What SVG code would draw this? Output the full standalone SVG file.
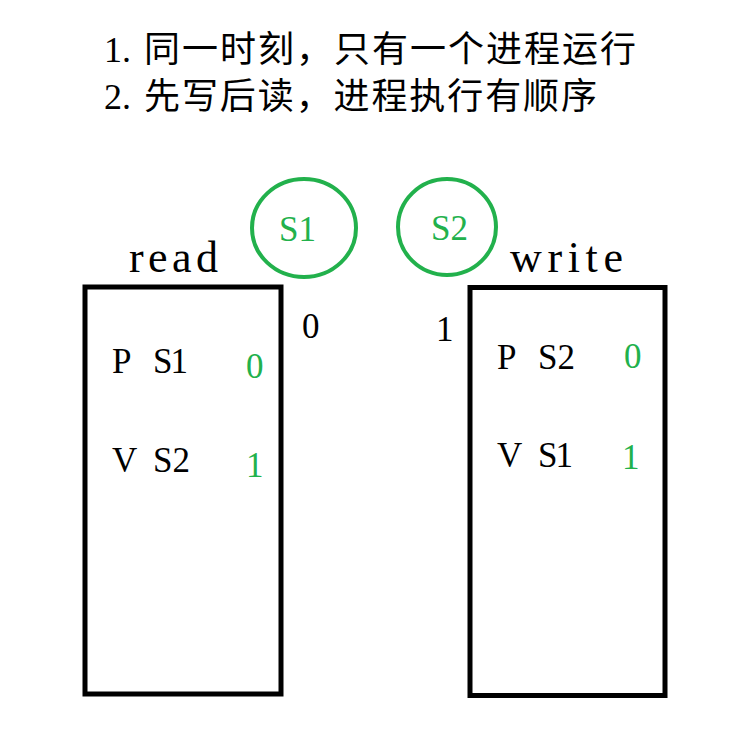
<svg xmlns="http://www.w3.org/2000/svg" width="746" height="746" viewBox="0 0 746 746">
<style>
text{font-family:"Liberation Serif","Noto Sans CJK SC",serif;fill:#000}
.title{font-size:36px}
.lbl{font-size:44px}
.op{font-size:35px}
.g{fill:#22b14c}
.sem{fill:none;stroke:#22b14c;stroke-width:4}
.box{fill:none;stroke:#000;stroke-width:5}
</style>
<rect width="746" height="746" fill="#fff"/>
<g id="title">
<text class="title" x="104" y="62">1.</text>
<text class="title" x="144" y="62" textLength="492">同一时刻，只有一个进程运行</text>
<text class="title" x="104" y="109">2.</text>
<text class="title" x="144" y="109" textLength="453">先写后读，进程执行有顺序</text>
</g>
<g id="sem-s1">
<ellipse class="sem" cx="304" cy="228" rx="52" ry="49"/>
<text class="op g" x="279" y="241" textLength="37">S1</text>
</g>
<g id="sem-s2">
<ellipse class="sem" cx="447" cy="227" rx="49" ry="48"/>
<text class="op g" x="431" y="240" textLength="37">S2</text>
</g>
<g id="init-values">
<text class="op" x="302" y="338">0</text>
<text class="op" x="436" y="341">1</text>
</g>
<g id="read">
<text class="lbl" x="129" y="272" textLength="89">read</text>
<rect class="box" x="85" y="287" width="196" height="407"/>
<text class="op" x="112" y="373">P</text>
<text class="op" x="153" y="373" textLength="35">S1</text>
<text class="op g" x="246" y="378">0</text>
<text class="op" x="112" y="472">V</text>
<text class="op" x="153" y="472" textLength="37">S2</text>
<text class="op g" x="246" y="477">1</text>
</g>
<g id="write">
<text class="lbl" x="510" y="272" textLength="113">write</text>
<rect class="box" x="470" y="287.5" width="195" height="408"/>
<text class="op" x="497" y="369">P</text>
<text class="op" x="538" y="369" textLength="37">S2</text>
<text class="op g" x="624" y="368">0</text>
<text class="op" x="497" y="467">V</text>
<text class="op" x="538" y="467" textLength="35">S1</text>
<text class="op g" x="622" y="469">1</text>
</g>
<g id="connectors"/>
</svg>
